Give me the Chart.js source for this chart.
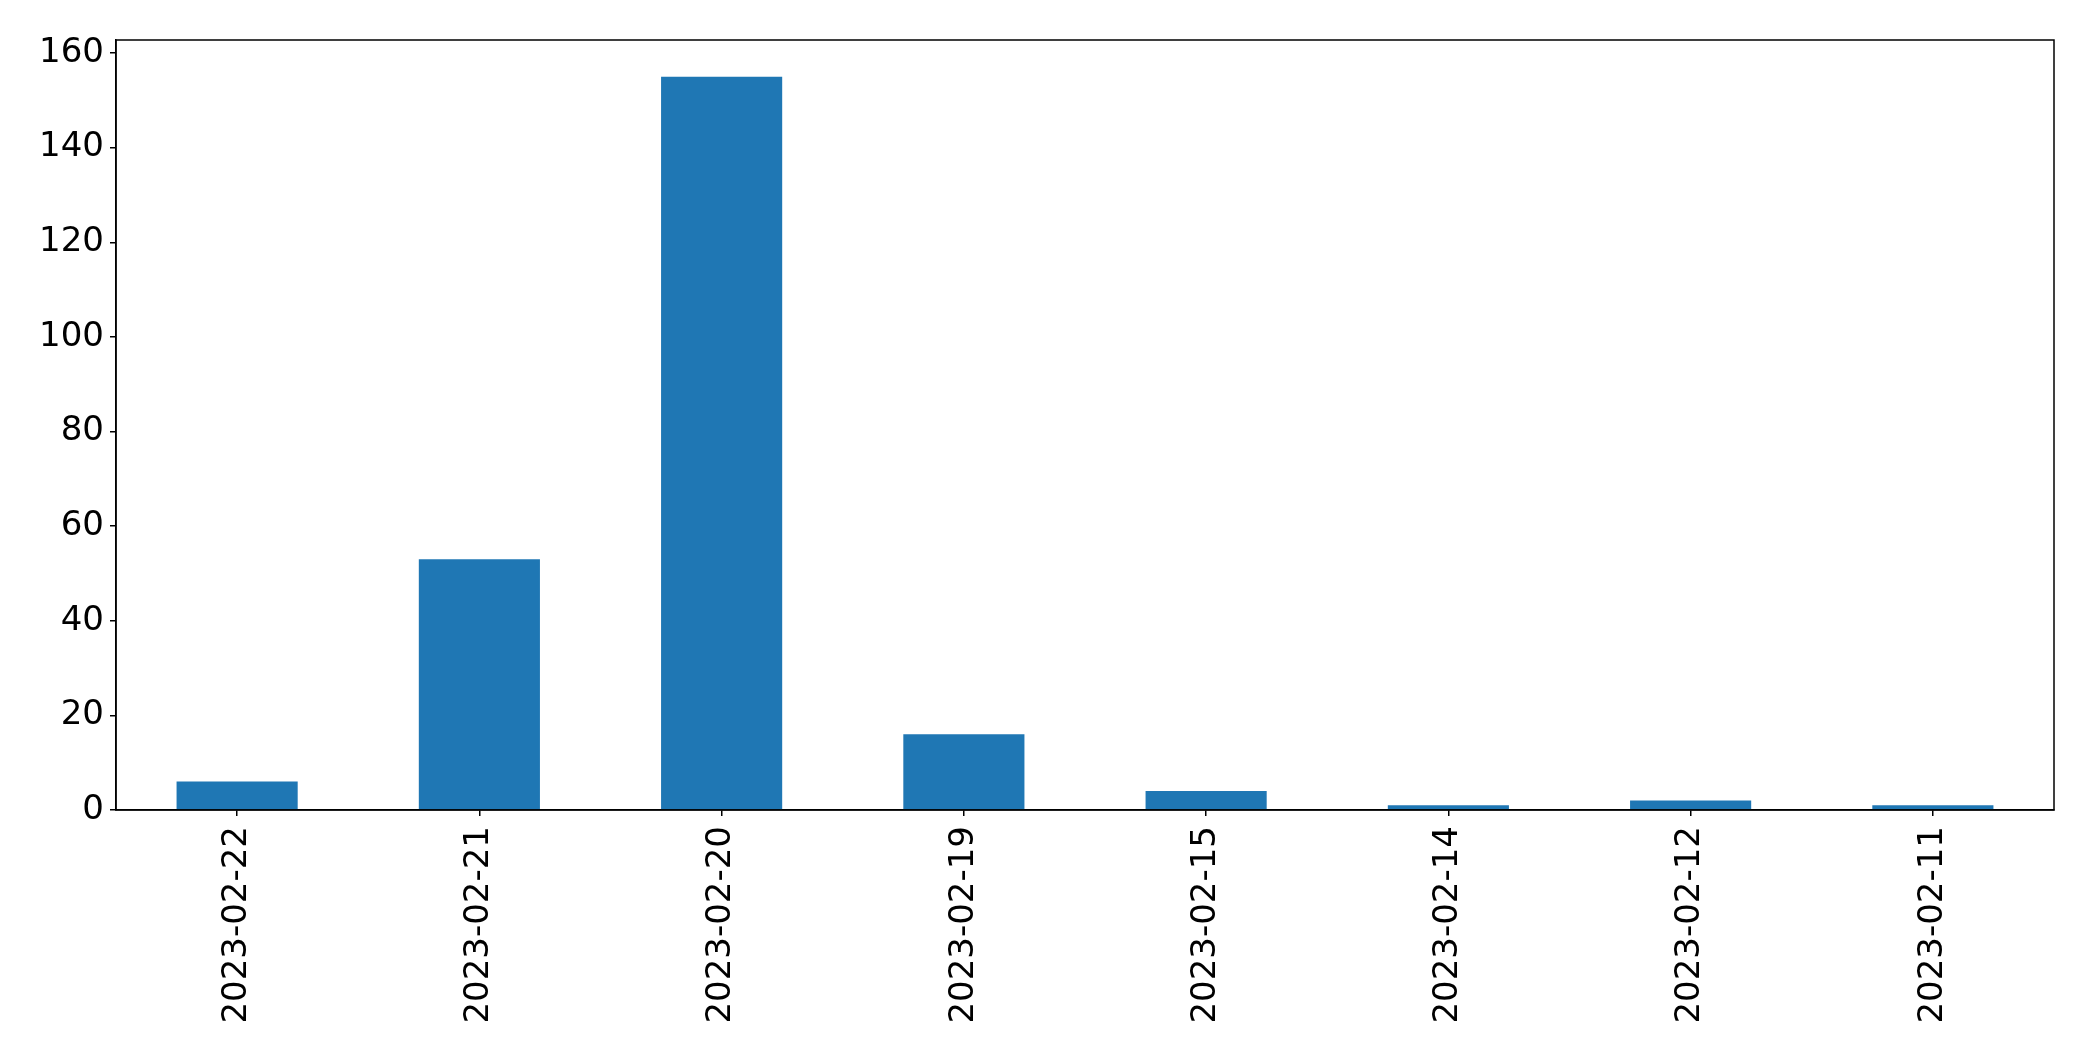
<!DOCTYPE html>
<html>
<head>
<meta charset="utf-8">
<script src="https://cdn.jsdelivr.net/npm/chart.js@4.4.1/dist/chart.umd.min.js"></script>
<style>
  html, body { margin: 0; padding: 0; background: #fff; }
  #wrap { width: 2093px; height: 1062px; }
</style>
</head>
<body>
<div id="wrap"><canvas id="chart" width="2093" height="1062"></canvas></div>
<script>
// data
const dates = ["2023-02-22", "2023-02-21", "2023-02-20", "2023-02-19", "2023-02-15", "2023-02-14", "2023-02-12", "2023-02-11"];
const counts = [6, 53, 155, 16, 4, 1, 2, 1];
const yTicks = [0, 20, 40, 60, 80, 100, 120, 140, 160];
const yMax = 162.75;

const tickFont = { family: "'DejaVu Sans'", size: 34 };

// frame round the plot area, like a matplotlib axes box
const frame = {
    id: "frame",
    afterDraw(chart) {
        const a = chart.chartArea;
        const c = chart.ctx;
        c.save();
        c.strokeStyle = "#000";
        c.lineWidth = 1.5;
        c.strokeRect(a.left, a.top, a.right - a.left, a.bottom - a.top);
        c.restore();
    }
};

new Chart(document.getElementById("chart"), {
    type: "bar",
    data: {
        labels: dates,
        datasets: [{
            data: counts,
            backgroundColor: "#1f77b4",
            categoryPercentage: 1.0,
            barPercentage: 0.5
        }]
    },
    options: {
        responsive: false,
        animation: false,
        layout: { padding: { top: 40, right: 39, left: 0, bottom: 0 } },
        plugins: { legend: { display: false }, tooltip: { enabled: false } },
        scales: {
            x: {
                offset: true,
                grid: { display: true, drawOnChartArea: false, offset: false, color: "#000", tickLength: 6, lineWidth: 1.5 },
                border: { display: true, color: "#000", width: 1.5 },
                ticks: { color: "#000", font: tickFont, minRotation: 90, maxRotation: 90, padding: 10, autoSkip: false },
                afterFit(scale) { scale.height = 252; }
            },
            y: {
                min: 0,
                max: yMax,
                grid: { display: true, drawOnChartArea: false, color: "#000", tickLength: 6, lineWidth: 1.5 },
                border: { display: true, color: "#000", width: 1.5 },
                ticks: { color: "#000", font: tickFont, padding: 6 },
                afterBuildTicks(scale) { scale.ticks = yTicks.map(v => ({ value: v })); },
                afterFit(scale) { scale.width = 116; }
            }
        }
    },
    plugins: [frame]
});
</script>
</body>
</html>
